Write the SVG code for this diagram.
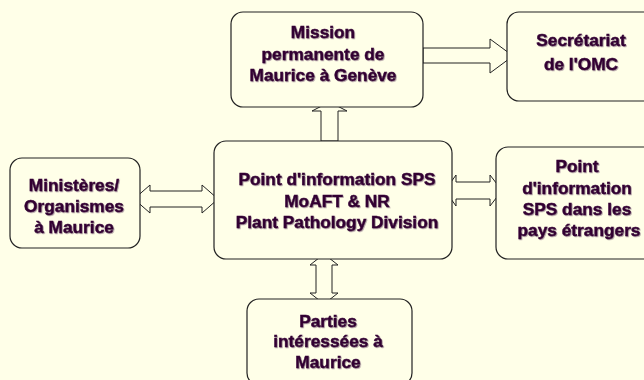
<svg xmlns="http://www.w3.org/2000/svg" width="644" height="380" viewBox="0 0 644 380">
<defs>
<filter id="sh" x="-5%" y="-5%" width="110%" height="120%">
<feDropShadow dx="0.8" dy="0.8" stdDeviation="0.2" flood-color="#553355" flood-opacity="0.55"/>
</filter>
<style>
.box{fill:#FFFFE8;stroke:#222222;stroke-width:1.2}
.arr{fill:#FFFFE8;stroke:#222222;stroke-width:1}
text{font-family:"Liberation Sans",Arial,sans-serif;font-weight:bold;font-size:17.3px;fill:#330033;stroke:#330033;stroke-width:0.45;text-anchor:middle;filter:url(#sh)}
</style>
</defs>
<rect x="0" y="0" width="644" height="380" fill="#FFFFE8"/>
<g id="connectors">
<polygon class="arr" points="423,48 490,48 490,39 513,56 490,73 490,63 423,63"/>
<polygon class="arr" points="321,141 321,111 312,111 329.5,102 347,111 338,111 338,141"/>
<polygon class="arr" points="134,199 150,185 150,191 202,191 202,185 218,199 202,213 202,207 150,207 150,213"/>
<polygon class="arr" points="445,190.5 456,175 456,182 490,182 490,175 502,190.5 490,206 490,199 456,199 456,206"/>
<polygon class="arr" points="324,254 338,265 332,265 332,293 338,293 324,304 310,293 316,293 316,265 310,265"/>
</g>
<g id="mission">
<rect class="box" x="231" y="12" width="192" height="95" rx="12"/>
<text x="323" y="38">Mission</text>
<text x="323" y="60">permanente de</text>
<text x="323" y="81">Maurice à Genève</text>
</g>
<g id="secretariat">
<rect class="box" x="507" y="12" width="150" height="89" rx="12"/>
<text x="581" y="46">Secrétariat</text>
<text x="581" y="70">de l'OMC</text>
</g>
<g id="central">
<rect class="box" x="214" y="141" width="238" height="118" rx="12"/>
<text x="337" y="185">Point d'information SPS</text>
<text x="337" y="207">MoAFT &amp; NR</text>
<text x="337" y="228">Plant Pathology Division</text>
</g>
<g id="ministeres">
<rect class="box" x="10" y="158" width="130" height="90" rx="12"/>
<text x="74" y="191">Ministères/</text>
<text x="74" y="212">Organismes</text>
<text x="74" y="233">à Maurice</text>
</g>
<g id="etrangers">
<rect class="box" x="496" y="147" width="160" height="112" rx="12"/>
<text x="577" y="172">Point</text>
<text x="577" y="194">d'information</text>
<text x="577" y="215">SPS dans les</text>
<text x="579" y="236">pays étrangers</text>
</g>
<g id="parties">
<rect class="box" x="247" y="299" width="165" height="86" rx="12"/>
<text x="328" y="327">Parties</text>
<text x="328" y="347">intéressées à</text>
<text x="328" y="368">Maurice</text>
</g>
</svg>
